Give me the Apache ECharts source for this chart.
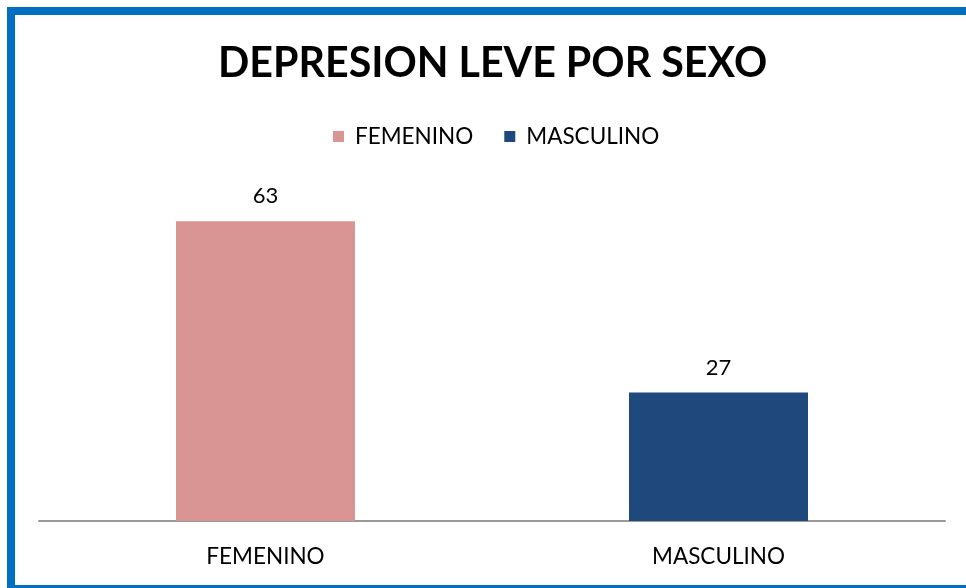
<!DOCTYPE html>
<html>
<head>
<meta charset="utf-8">
<script src="https://cdn.jsdelivr.net/npm/echarts@6/dist/echarts.min.js"></script>
<style>
html,body{margin:0;padding:0;background:#fff;}
#chart{width:966px;height:588px;}
</style>
</head>
<body>
<div id="chart"></div>
<script>
var titleText = 'DEPRESION LEVE POR SEXO';
var categories = ['FEMENINO', 'MASCULINO'];
var seriesNames = ['FEMENINO', 'MASCULINO'];
var values = [63, 27];
var colors = ['#D99594', '#1F497D'];

var chart = echarts.init(document.getElementById('chart'), null, {renderer: 'canvas'});
var FONT = 'Lato';
var series = seriesNames.map(function (name, i) {
  var data = categories.map(function (c, j) { return j === i ? values[j] : '-'; });
  return {
    name: name,
    type: 'bar',
    stack: 'one',
    data: data,
    barWidth: 179,
    itemStyle: {color: colors[i]},
    label: {show: true, position: 'top', distance: 14, color: '#000', fontFamily: FONT, fontSize: 22}
  };
});
chart.setOption({
  animation: false,
  backgroundColor: '#fff',
  title: {
    text: titleText, left: 213, top: 38,
    textStyle: {fontFamily: FONT, fontWeight: 'bold', fontSize: 41.2, color: '#000'}
  },
  legend: {
    data: seriesNames, top: 120, left: 328,
    icon: 'rect', itemWidth: 11, itemHeight: 11, itemGap: 31,
    textStyle: {fontFamily: FONT, fontSize: 22.5, color: '#000', padding: [0, 0, 0, 6]}
  },
  grid: {left: 39, right: 21, top: 188, bottom: 67, containLabel: false},
  xAxis: {
    type: 'category', data: categories,
    axisLine: {lineStyle: {color: '#999', width: 2}},
    axisTick: {show: false},
    axisLabel: {fontFamily: FONT, fontSize: 22.5, color: '#000', margin: 24}
  },
  yAxis: {type: 'value', min: 0, max: 70, show: false, splitLine: {show: false}},
  series: series,
  graphic: [{
    type: 'polyline',
    shape: {points: [[1100, 11], [11, 11], [11, 589], [1100, 589]]},
    style: {fill: null, stroke: '#0070C0', lineWidth: 8}, z: 100
  }]
});
</script>
</body>
</html>
